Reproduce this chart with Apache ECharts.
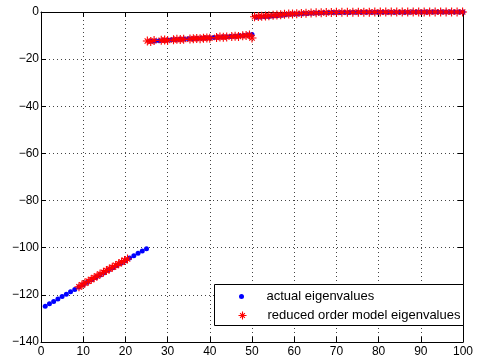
<!DOCTYPE html>
<html>
<head>
<meta charset="utf-8">
<script src="https://cdn.jsdelivr.net/npm/echarts@6/dist/echarts.min.js"></script>
<style>html,body{margin:0;padding:0;background:#fff}#c{width:488px;height:360px}</style>
</head>
<body>
<div id="c"></div>
<script>
// actual eigenvalues, index 1..100
const actualY = [
  -124.8,-123.8,-122.8,-121.8,-120.7,-119.7,-118.7,-117.7,-116.7,-115.7,
  -114.6,-113.6,-112.6,-111.6,-110.6,-109.5,-108.5,-107.5,-106.5,-105.5,
  -104.4,-103.4,-102.4,-101.4,-100.4,
  -12.4,-12.3,-12.2,-12.0,-11.9,-11.8,-11.7,-11.6,-11.5,-11.4,
  -11.3,-11.2,-11.1,-11.0,-10.9,-10.8,-10.7,-10.6,-10.5,-10.4,
  -10.3,-10.1,-10.0,-9.8,-9.5,
  -2.2,-2.1,-2.0,-1.9,-1.7,-1.6,-1.4,-1.2,-1.0,-0.9,
  -0.8,-0.7,-0.6,-0.5,-0.45,-0.4,-0.35,-0.3,-0.25,-0.2,
  -0.18,-0.17,-0.16,-0.15,-0.14,-0.13,-0.12,-0.11,-0.1,-0.1,
  -0.09,-0.08,-0.08,-0.07,-0.07,-0.06,-0.06,-0.05,-0.05,-0.05,
  -0.04,-0.04,-0.03,-0.03,-0.03,-0.02,-0.02,-0.02,-0.01,-0.01
];
// reduced order model eigenvalues (position, value)
const reducedX = [
  9.0,9.7,10.4,11.2,11.9,12.6,13.3,14.0,14.8,15.5,16.2,16.9,17.7,18.4,19.1,19.8,20.5,
  25.2,26.0,26.8,28.5,29.3,30.0,31.4,32.2,33.0,33.8,35.3,36.1,36.9,37.7,38.5,39.3,40.0,
  41.6,42.4,43.2,44.0,45.2,46.0,46.8,47.8,48.6,49.4,50.0,
  50.6,51.5,52.3,53.2,54.0,55.0,55.9,56.8,57.7,58.7,59.6,60.6,61.7,62.8,64.0,65.2,66.4,
  67.6,68.8,70.0,71.3,72.6,73.9,75.2,76.5,77.8,79.1,80.4,81.7,83.0,84.3,85.6,86.9,88.2,
  89.5,90.8,92.1,93.4,94.7,96.0,97.3,98.6,99.9
];
const reducedY = [
  -116.6,-115.8,-115.0,-114.2,-113.5,-112.7,-112.0,-111.2,-110.4,-109.7,-109.0,-108.3,-107.5,-106.8,-106.1,-105.4,-104.8,
  -12.3,-12.5,-12.1,-12.0,-11.9,-12.1,-11.8,-11.6,-11.7,-11.6,-11.5,-11.3,-11.2,-11.3,-11.1,-11.0,-11.1,
  -10.8,-10.6,-10.7,-10.6,-10.4,-10.3,-10.4,-10.1,-10.0,-9.8,-11.0,
  -2.0,-1.9,-1.8,-1.7,-1.6,-1.4,-1.3,-1.2,-1.0,-0.9,-0.8,-0.7,-0.6,-0.5,-0.4,-0.35,-0.3,
  -0.25,-0.2,-0.15,-0.12,-0.1,-0.1,-0.08,-0.07,-0.06,-0.05,-0.05,-0.04,-0.04,-0.03,-0.03,-0.03,-0.02,
  -0.02,-0.02,-0.02,-0.01,-0.01,-0.01,-0.01,0,0
];
const xTicks = {min: 0, max: 100, interval: 10};
const yTicks = {min: -140, max: 0, interval: 20};
const seriesNames = ['actual eigenvalues', 'reduced order model eigenvalues'];

const FONT = 'Liberation Sans, Arial, Helvetica, sans-serif';
const STAR = 'path://M5,0L5,10M0,5L10,5M2,2L8,8M8,2L2,8';
const minusFmt = v => String(v).replace('-', '\u2212');
const line = {show: true, onZero: false, lineStyle: {color: '#000', width: 1}};
const tick = {show: true, inside: true, length: 5, lineStyle: {color: '#000'}};
const grid = {show: true, lineStyle: {color: '#444', width: 1, type: [1, 3]}};
const starStyle = {color: 'none', borderColor: '#ff0000', borderWidth: 1.1, opacity: 1};

const chart = echarts.init(document.getElementById('c'), null, {renderer: 'canvas'});
chart.setOption({
  animation: false,
  backgroundColor: '#fff',
  grid: {left: 41, top: 12, width: 422, height: 330},
  xAxis: [
    {type: 'value', position: 'bottom', ...xTicks, axisLine: line, axisTick: tick, splitLine: grid,
     axisLabel: {color: '#000', fontSize: 12, fontFamily: FONT, margin: 4, formatter: minusFmt}},
    {type: 'value', position: 'top', ...xTicks, axisLine: line, axisTick: tick,
     splitLine: {show: false}, axisLabel: {show: false}}
  ],
  yAxis: [
    {type: 'value', position: 'left', ...yTicks, axisLine: line, axisTick: tick, splitLine: grid,
     axisLabel: {color: '#000', fontSize: 12, fontFamily: FONT, margin: 2, formatter: minusFmt}},
    {type: 'value', position: 'right', ...yTicks, axisLine: line, axisTick: tick,
     splitLine: {show: false}, axisLabel: {show: false}}
  ],
  legend: [
    {data: [seriesNames[0]], orient: 'vertical', left: 239, top: 290, padding: 0,
     itemWidth: 40, itemHeight: 5, selectedMode: false,
     textStyle: {color: '#000', fontSize: 13, fontFamily: FONT}},
    {data: [{name: seriesNames[1], icon: STAR, itemStyle: starStyle}], orient: 'vertical', left: 236, top: 309, padding: 0,
     itemWidth: 40, itemHeight: 8, selectedMode: false, itemStyle: starStyle,
     textStyle: {color: '#000', fontSize: 13, fontFamily: FONT}}
  ],
  graphic: [{
    type: 'rect', left: 214, top: 284, z: 3,
    shape: {width: 249, height: 41},
    style: {fill: '#fff', stroke: '#000', lineWidth: 1}
  }],
  series: [
    {name: seriesNames[0], type: 'scatter', symbol: 'circle', symbolSize: 5, z: 2,
     itemStyle: {color: '#0000ff', opacity: 1},
     data: actualY.map((v, i) => [i + 1, v])},
    {name: seriesNames[1], type: 'scatter', symbol: STAR, symbolSize: 9, z: 3,
     itemStyle: starStyle,
     data: reducedX.map((x, i) => [x, reducedY[i]])}
  ]
});
</script>
</body>
</html>
